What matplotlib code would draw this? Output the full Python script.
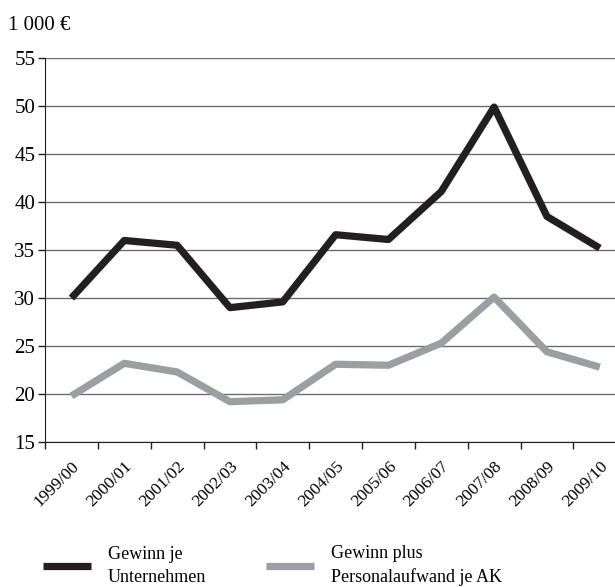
import matplotlib
matplotlib.use("Agg")
import matplotlib.pyplot as plt
from matplotlib.ticker import FixedLocator

plt.rcParams['font.family'] = ['Liberation Serif', 'DejaVu Serif']

years = ["1999/00", "2000/01", "2001/02", "2002/03", "2003/04", "2004/05",
         "2005/06", "2006/07", "2007/08", "2008/09", "2009/10"]
gewinn = [30.0, 36.0, 35.5, 29.0, 29.6, 36.6, 36.1, 41.1, 49.9, 38.5, 35.2]
gewinn_plus = [19.8, 23.2, 22.3, 19.2, 19.4, 23.1, 23.0, 25.3, 30.1, 24.4, 22.8]

fig = plt.figure(figsize=(6.15, 5.87), dpi=100)
ax = fig.add_axes([0.0732, 0.247, 0.945, 0.654])

x = list(range(len(years)))
ax.plot(x, gewinn, color="#231f20", lw=5.2, solid_capstyle="butt",
        label="Gewinn je\nUnternehmen", clip_on=False)
ax.plot(x, gewinn_plus, color="#9a9fa3", lw=5.2, solid_capstyle="butt",
        label="Gewinn plus\nPersonalaufwand je AK", clip_on=False)

ax.set_xlim(-0.5, len(years) - 0.5)
ax.set_ylim(15, 55)
ax.set_yticks(range(15, 56, 5))
ax.yaxis.grid(True, color="#6d6d6d", lw=1)
ax.set_axisbelow(True)

ax.set_xticks(x)
ax.set_xticklabels(years, rotation=45, ha="right", rotation_mode="anchor", fontsize=12.5)
ax.xaxis.set_minor_locator(FixedLocator([i - 0.5 for i in range(len(years) + 1)]))
ax.tick_params(axis="x", which="major", length=0, pad=12)
ax.tick_params(axis="x", which="minor", length=5, width=1, color="#231f20")
ax.tick_params(axis="y", length=5, width=1, color="#231f20", labelsize=15, pad=2)

for s in ["top", "right"]:
    ax.spines[s].set_visible(False)
ax.spines["left"].set_color("#231f20")
ax.spines["bottom"].set_color("#231f20")

fig.text(0.013, 0.957, "1 000 €", fontsize=15, va="center", ha="left")

leg = fig.legend(loc="center left", bbox_to_anchor=(0.043, 0.036), ncol=2, frameon=False,
                 fontsize=13, handlelength=2.65, handletextpad=0.95, columnspacing=3.3,
                 labelspacing=0.15)
for t in leg.get_texts():
    t.set_linespacing(1.45)

fig.savefig("out.png", dpi=100)
